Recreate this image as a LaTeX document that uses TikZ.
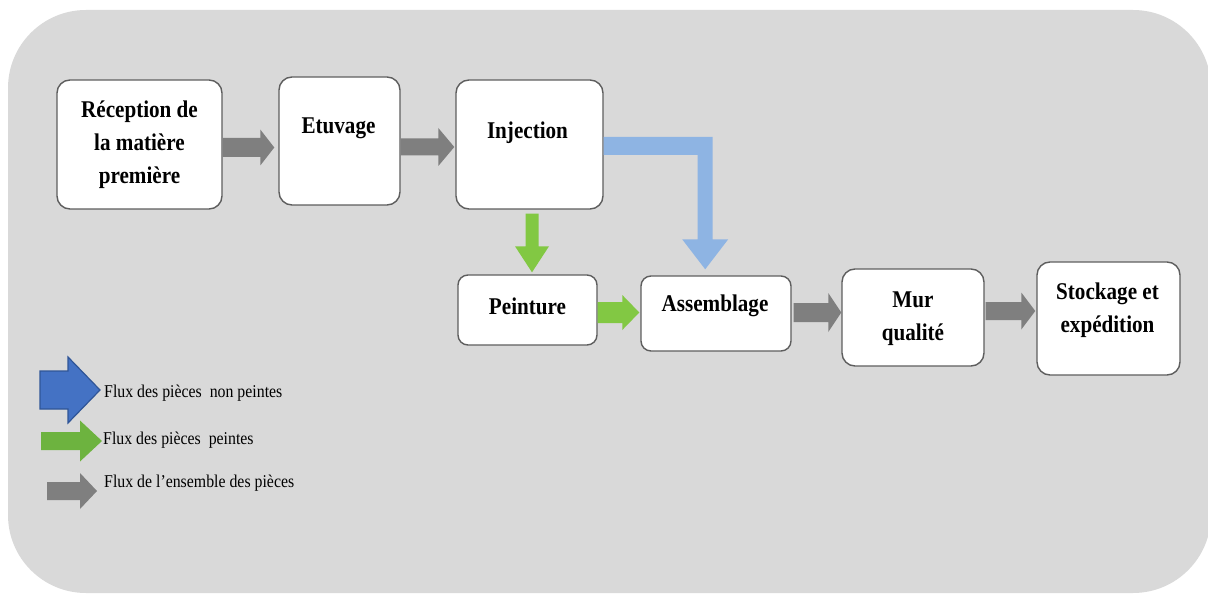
\documentclass[tikz,border=0pt]{standalone}
\usepackage{fontspec}
\setmainfont{Liberation Serif}[FakeStretch=0.88]
\usetikzlibrary{calc}

\definecolor{panel}{HTML}{D9D9D9}
\definecolor{boxline}{HTML}{5E5E5E}
\definecolor{allflow}{HTML}{7F7F7F}
\definecolor{rawflow}{HTML}{8EB4E3}
\definecolor{paintflow}{HTML}{82C843}
\definecolor{legblue}{HTML}{4472C4}
\definecolor{legblueline}{HTML}{2F5597}
\definecolor{leggreen}{HTML}{6DB33F}

% block arrow pointing right: style, tail point, tip point, shaft half width, head half width, head length
\newcommand\flowH[6]{%
  \fill[#1] ($(#2)+(0,-#4)$) -- ($(#3)+(-#6,-#4)$) -- ($(#3)+(-#6,-#5)$) -- (#3)
    -- ($(#3)+(-#6,#5)$) -- ($(#3)+(-#6,#4)$) -- ($(#2)+(0,#4)$) -- cycle;}
% block arrow pointing down: style, tail point, tip point, shaft half width, head half width, head length
\newcommand\flowV[6]{%
  \fill[#1] ($(#2)+(-#4,0)$) -- ($(#3)+(-#4,-#6)$) -- ($(#3)+(-#5,-#6)$) -- (#3)
    -- ($(#3)+(#5,-#6)$) -- ($(#3)+(#4,-#6)$) -- ($(#2)+(#4,0)$) -- cycle;}

\begin{document}
\begin{tikzpicture}[x=1pt,y=-1pt,
  stepbox/.style={draw=boxline, line width=1.4pt, fill=white, rounded corners=13pt, inner sep=0pt},
  smallbox/.style={stepbox, rounded corners=10pt},
  boxtext/.style={font=\fontsize{24}{33}\selectfont\bfseries, align=center, inner sep=0pt},
  legendtext/.style={font=\fontsize{18}{20}\selectfont, anchor=base west, inner sep=0pt},
]
\useasboundingbox (0,0) rectangle (1208,596);
\fill[white] (0,0) rectangle (1208,596);
\fill[panel, rounded corners=78pt] (8,10) rectangle (1211,593);

% process steps
\node[stepbox, minimum width=165pt, minimum height=129pt] (rec) at (139.5,144.5) {};
\node[stepbox, minimum width=121pt, minimum height=128pt] (etu) at (339.5,141) {};
\node[stepbox, minimum width=147pt, minimum height=129pt] (inj) at (529.5,144.5) {};
\node[smallbox, minimum width=139pt, minimum height=70pt] (pei) at (527.5,310) {};
\node[smallbox, minimum width=150pt, minimum height=75pt] (asm) at (716,313.5) {};
\node[stepbox, minimum width=142pt, minimum height=97pt] (mur) at (913,317.5) {};
\node[stepbox, minimum width=143pt, minimum height=113pt] (sto) at (1108.5,318.5) {};

\node[boxtext] (rec-t) at (rec) {Réception de\\la matière\\première};
\node[boxtext] (etu-t) at ($(etu)+(-1,-13)$) {Etuvage};
\node[boxtext] (inj-t) at ($(inj)+(-2,-11.5)$) {Injection};
\node[boxtext] (pei-t) at ($(pei)+(0,-4)$) {Peinture};
\node[boxtext] (asm-t) at ($(asm)+(-1,-7.5)$) {Assemblage};
\node[boxtext] (mur-t) at ($(mur)+(0,1)$) {Mur\\qualité};
\node[boxtext] (sto-t) at ($(sto)+(-1,-8.5)$) {Stockage et\\expédition};

% flow of all parts
\path (rec.east) ++(0,3) coordinate (g1a);
\path (g1a -| etu.west) ++(-4,0) coordinate (g1b);
\flowH{allflow}{g1a}{g1b}{9.5}{18}{14}
\path (etu.east) ++(0,6) coordinate (g2a);
\path (g2a -| inj.west) ++(-1,0) coordinate (g2b);
\flowH{allflow}{g2a}{g2b}{8.5}{19}{16}
\path (asm.east) ++(2,-1) coordinate (g3a);
\path (g3a -| mur.west) coordinate (g3b);
\flowH{allflow}{g3a}{g3b}{9.5}{19.5}{13}
\path (mur.east) ++(1,-6.5) coordinate (g4a);
\path (g4a -| sto.west) ++(-1,0) coordinate (g4b);
\flowH{allflow}{g4a}{g4b}{9}{18.5}{14}

% flow of painted parts
\path (inj.south) ++(2.5,4) coordinate (p1a);
\path (p1a |- pei.north) ++(0,-2) coordinate (p1b);
\flowV{paintflow}{p1a}{p1b}{6.5}{17}{26}
\path (pei.east) ++(0,2.5) coordinate (p2a);
\path (p2a -| asm.west) ++(-1,0) coordinate (p2b);
\flowH{paintflow}{p2a}{p2b}{10.5}{17.5}{17}

% flow of unpainted parts (elbow from injection to assembly)
\path (inj.east) ++(0,1.5) coordinate (u1a);
\path (u1a) ++(101.5,0) coordinate (u1c);
\path (u1c |- asm.north) ++(0,-6) coordinate (u1b);
\fill[rawflow] ($(u1a)+(0,-9)$) -- ($(u1c)+(7.5,-9)$) -- ($(u1b)+(7.5,-30)$)
  -- ($(u1b)+(23,-30)$) -- (u1b) -- ($(u1b)+(-23,-30)$) -- ($(u1b)+(-7.5,-30)$)
  -- ($(u1c)+(-7.5,9)$) -- ($(u1a)+(0,9)$) -- cycle;

% legend
\node[legendtext] (leg1) at (104,397) {Flux des pièces~ non peintes};
\node[legendtext] (leg2) at (103,444) {Flux des pièces~ peintes};
\node[legendtext] (leg3) at (104,487) {Flux de l’ensemble des pièces};
\coordinate (l1a) at (40,390);  \coordinate (l1b) at (100,390);
\flowH{legblue, draw=legblueline, line width=1.2pt}{l1a}{l1b}{19}{33}{32}
\coordinate (l2a) at (41,441);  \coordinate (l2b) at (102,441);
\flowH{leggreen}{l2a}{l2b}{9}{20.5}{22}
\coordinate (l3a) at (47,491);  \coordinate (l3b) at (97,491);
\flowH{allflow}{l3a}{l3b}{9}{18}{17}
\end{tikzpicture}
\end{document}
